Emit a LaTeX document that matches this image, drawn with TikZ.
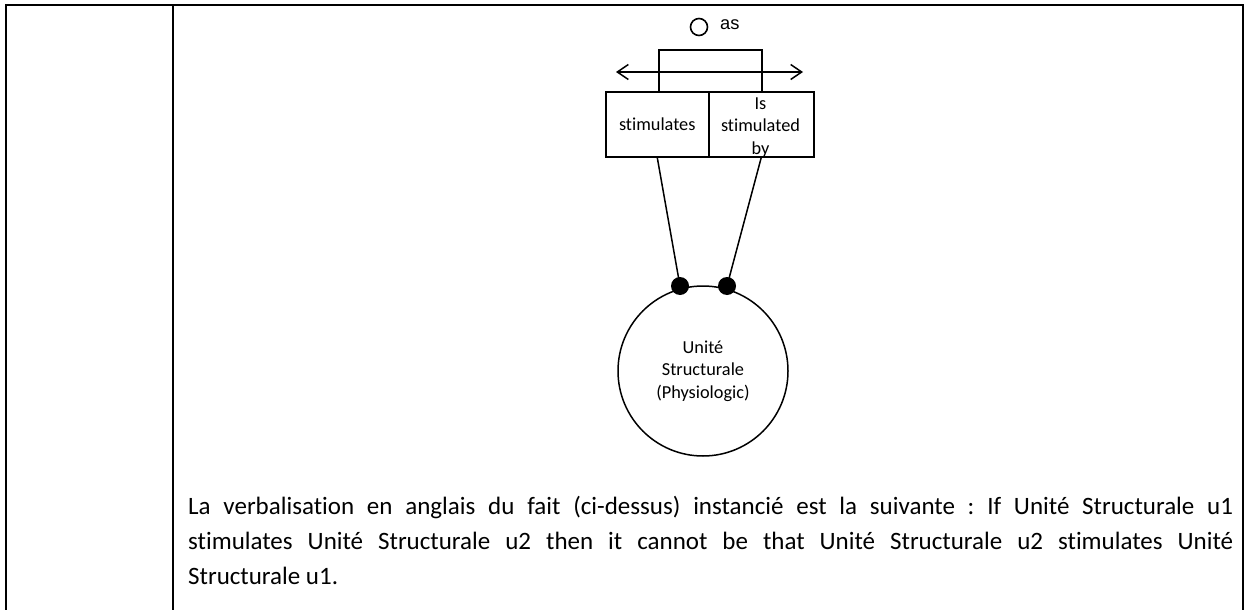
\documentclass[tikz,border=0pt]{standalone}
\usepackage{fontspec}
\setmainfont{Carlito}[Ligatures=NoCommon]
\newfontfamily\arialfont{Liberation Sans}
\usetikzlibrary{arrows.meta}
\begin{document}
\begin{tikzpicture}[x=1pt,y=-1pt,
  tableline/.style={line width=2pt},
  diag/.style={line width=1.5pt},
  dtext/.style={font=\fontsize{18.3pt}{22.4pt}\selectfont},
  rolebox/.style={draw, line width=1.5pt, minimum width=103pt, minimum height=65pt, inner sep=0pt, anchor=north west, align=center, dtext},
  dot/.style={circle, fill=black, minimum size=18pt, inner sep=0pt},
  bodytext/.style={anchor=north west, text width=1045pt, align=justify, inner sep=0pt, font=\fontsize{25pt}{35pt}\selectfont}
]
\useasboundingbox (0,0) rectangle (1245,610);
% table lines
\draw[tableline] (6,610) -- (6,5) -- (1243,5) -- (1243,610);
\draw[tableline] (173,5) -- (173,610);

% "as" marker
\node[draw, circle, line width=1.6pt, minimum size=17pt, inner sep=0pt] (asc) at (699,27) {};
\node[anchor=west, inner sep=0pt, font=\arialfont\fontsize{18.3pt}{22pt}\selectfont] (as) at (720,25) {as};

% role boxes
\node[rolebox] (sbox) at (605,91) {stimulates};
\node[rolebox, minimum width=105pt] (ibox) at (708,91) {};
\node[dtext, align=center, inner sep=0pt] (itext) at (760.5,127.5) {Is\\stimulated\\by};

% bracket and bidirectional arrow
\coordinate (bl) at (659,91);
\coordinate (br) at (762,91);
\draw[diag] (bl) -- (659,50) -- (762,50) -- (br);
\coordinate (al) at (616,72);
\coordinate (ar) at (803,72);
\draw[diag, {Straight Barb[length=11pt,width=15pt,line width=1.5pt]}-{Straight Barb[length=11pt,width=15pt,line width=1.5pt]}] (al) -- (ar);

% entity
\node[draw, circle, line width=1.5pt, minimum size=170pt, inner sep=0pt, align=center, dtext] (unit) at (703,371) {Unité\\Structurale\\(Physiologic)};
\node[dot] (d1) at (680,286) {};
\node[dot] (d2) at (727,286) {};
\draw[diag] (sbox.south) -- (d1.center);
\draw[diag] (ibox.south) -- (d2.center);

% body text
\node[bodytext] (body) at (188,496) {\frenchspacing\hyphenpenalty=10000\hbadness=10000 La verbalisation en anglais du fait (ci-dessus) instancié est la suivante : If Unité Structurale u1\linebreak stimulates Unité Structurale u2 then it cannot be that Unité Structurale u2 stimulates Unité\linebreak Structurale u1.};
\end{tikzpicture}
\end{document}
